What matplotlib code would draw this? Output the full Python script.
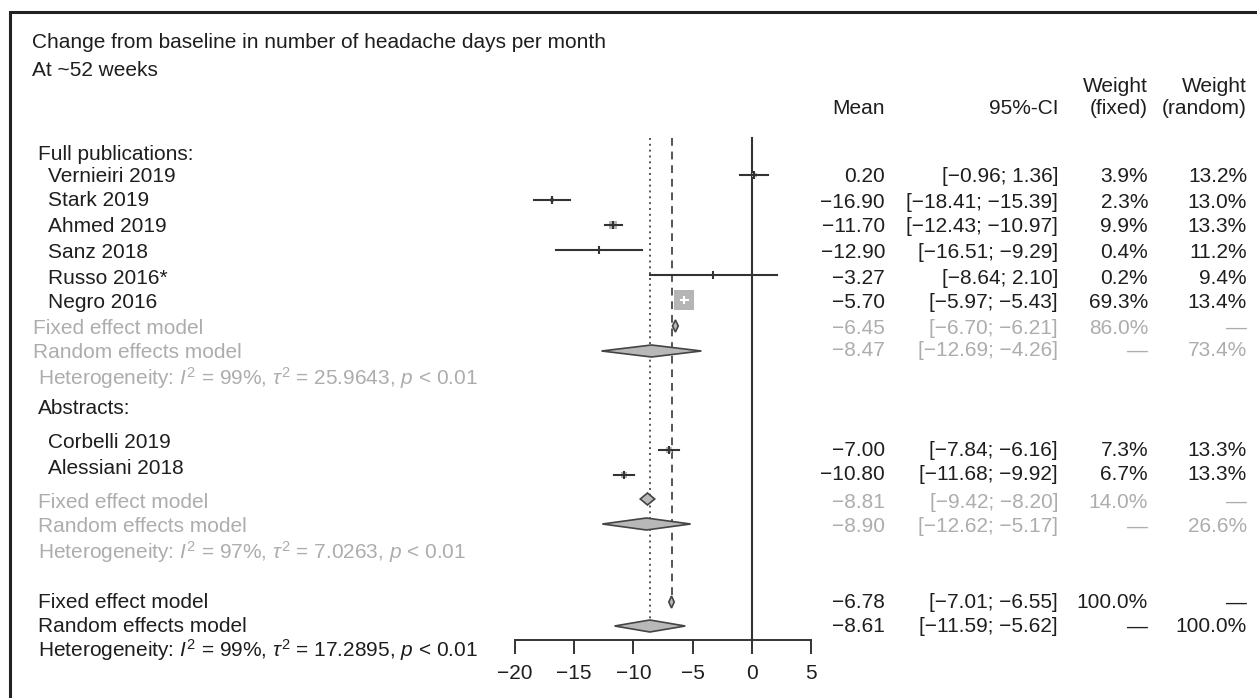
import numpy as np
import matplotlib
matplotlib.use("Agg")
import matplotlib.pyplot as plt
from matplotlib.patches import Polygon

plt.rcParams['font.family'] = ['Liberation Sans', 'DejaVu Sans']
plt.rcParams['mathtext.fontset'] = 'custom'
plt.rcParams['mathtext.rm'] = 'Liberation Sans'
plt.rcParams['mathtext.it'] = 'Liberation Sans:italic'

# ---- data ----
studies = ["Vernieiri 2019", "Stark 2019", "Ahmed 2019", "Sanz 2018",
           "Russo 2016*", "Negro 2016", "Corbelli 2019", "Alessiani 2018"]
mean = [0.20, -16.90, -11.70, -12.90, -3.27, -5.70, -7.00, -10.80]
lower = [-0.96, -18.41, -12.43, -16.51, -8.64, -5.97, -7.84, -11.68]
upper = [1.36, -15.39, -10.97, -9.29, 2.10, -5.43, -6.16, -9.92]
w_fixed = [3.9, 2.3, 9.9, 0.4, 0.2, 69.3, 7.3, 6.7]
w_random = [13.2, 13.0, 13.3, 11.2, 9.4, 13.4, 13.3, 13.3]

pooled_names = ["Fixed effect model", "Random effects model"] * 3
pooled_mean = [-6.45, -8.47, -8.81, -8.90, -6.78, -8.61]
pooled_lower = [-6.70, -12.69, -9.42, -12.62, -7.01, -11.59]
pooled_upper = [-6.21, -4.26, -8.20, -5.17, -6.55, -5.62]
pooled_wfixed = [86.0, None, 14.0, None, 100.0, None]
pooled_wrandom = [None, 73.4, None, 26.6, None, 100.0]

het_i2 = [99, 97, 99]
het_tau2 = [25.9643, 7.0263, 17.2895]

group_names = ["Full publications:", "Abstracts:"]
xticks = [-20, -15, -10, -5, 0, 5]

# ---- layout (pixel rows) ----
W, H = 1257, 698
BLACK = "#1e1e1e"
GRAY = "#adadad"
FS = 15

study_label_y = [176, 201, 227, 252, 278, 303, 443, 468]
study_value_y = [177, 202, 227, 252, 278, 303, 450, 475]
study_mark_y = [175, 200, 225, 250, 275, 300, 450, 475]
pooled_label_y = [329, 353, 502, 527, 603, 627]
pooled_value_y = [328, 351, 502, 527, 603, 627]
pooled_mark_y = [326, 351, 499, 524, 602, 626]
het_y = [378, 552, 650]
group_y = [155, 409]

col_mean, col_ci, col_wf, col_wr = 885, 1058, 1148, 1247

fig = plt.figure(figsize=(W / 100, H / 100), dpi=100)
bg = fig.add_axes([0, 0, 1, 1])
bg.set_xlim(0, W)
bg.set_ylim(H, 0)
bg.axis('off')

# frame
bg.plot([10, 10, W], [H, 12, 12], color="#222222", lw=2.2, solid_joinstyle='miter')

def txt(x, y, s, color=BLACK, ha='left'):
    bg.text(x, y, s, fontsize=FS, color=color, ha=ha, va='center')

def num(v):
    return f"{v:.2f}".replace('-', '\u2212')

def pct(v):
    return "\u2014" if v is None else f"{v:.1f}%"

# titles and headers
txt(32, 43, "Change from baseline in number of headache days per month")
txt(32, 70, "At ~52 weeks")
txt(col_wf, 87, "Weight", ha='right')
txt(col_wr, 87, "Weight", ha='right')
txt(col_mean, 109, "Mean", ha='right')
txt(col_ci, 109, "95%-CI", ha='right')
txt(col_wf, 109, "(fixed)", ha='right')
txt(col_wr, 109, "(random)", ha='right')

for g, y in zip(group_names, group_y):
    txt(38, y, g)

for i, s in enumerate(studies):
    txt(48, study_label_y[i], s)
    yv = study_value_y[i]
    txt(col_mean, yv, num(mean[i]), ha='right')
    txt(col_ci, yv, f"[{num(lower[i])}; {num(upper[i])}]", ha='right')
    txt(col_wf, yv, pct(w_fixed[i]), ha='right')
    txt(col_wr, yv, pct(w_random[i]), ha='right')

for j in range(6):
    overall = j >= 4
    c = BLACK if overall else GRAY
    xl = 33 if j < 2 else 38
    txt(xl, pooled_label_y[j], pooled_names[j], color=c)
    yv = pooled_value_y[j]
    txt(col_mean, yv, num(pooled_mean[j]), color=c, ha='right')
    txt(col_ci, yv, f"[{num(pooled_lower[j])}; {num(pooled_upper[j])}]", color=c, ha='right')
    txt(col_wf, yv, pct(pooled_wfixed[j]), color=c, ha='right')
    txt(col_wr, yv, pct(pooled_wrandom[j]), color=c, ha='right')

for k in range(3):
    c = BLACK if k == 2 else GRAY
    s = (r"Heterogeneity: $I^2$ = " + f"{het_i2[k]}%, " + r"$\tau^2$ = "
         + f"{het_tau2[k]:.4f}, " + r"$p$ < 0.01")
    txt(38, het_y[k], s, color=c)

# ---- forest panel ----
x0_px, x1_px = 515, 811
top_px, axis_px = 138, 640
fa = fig.add_axes([x0_px / W, (H - axis_px) / H, (x1_px - x0_px) / W, (axis_px - top_px) / H])
fa.set_xlim(xticks[0], xticks[-1])
fa.set_ylim(axis_px, top_px)
fa.patch.set_visible(False)
for sp in ['left', 'right', 'top']:
    fa.spines[sp].set_visible(False)
fa.spines['bottom'].set_color('#333333')
fa.spines['bottom'].set_linewidth(1.4)
fa.set_yticks([])
fa.set_xticks(xticks)
fa.set_xticklabels([str(t).replace('-', '\u2212') for t in xticks])
fa.tick_params(axis='x', direction='out', length=10, width=1.4, color='#333333',
               labelsize=FS, pad=7, labelcolor=BLACK)

# reference lines
fa.plot([0, 0], [top_px, axis_px], color='#333333', lw=1.5, clip_on=False)
fa.plot([pooled_mean[4]] * 2, [top_px, pooled_mark_y[4] - 6], color='#555555',
        lw=1.4, ls=(0, (4, 3)), clip_on=False)
fa.plot([pooled_mean[5]] * 2, [top_px, pooled_mark_y[5] - 6], color='#555555',
        lw=1.4, ls=(0, (1, 2)), clip_on=False)

px_per_unit = (x1_px - x0_px) / (xticks[-1] - xticks[0])
max_box = 20.0
for i in range(len(studies)):
    y = study_mark_y[i]
    box = max_box * np.sqrt(w_fixed[i] / max(w_fixed))
    fa.scatter([mean[i]], [y], marker='s', s=(box * 0.72) ** 2, color='#b5b5b5',
               edgecolors='none', zorder=2, clip_on=False)
    inside = (upper[i] - lower[i]) * px_per_unit < box
    lc = 'white' if inside else '#333333'
    fa.plot([lower[i], upper[i]], [y, y], color=lc, lw=1.5, zorder=3, clip_on=False)
    fa.plot([mean[i]], [y], marker='|', ms=6, mew=1.5, color=lc, zorder=4, clip_on=False)

for j in range(6):
    y = pooled_mark_y[j]
    h = 6
    verts = [(pooled_lower[j], y), (pooled_mean[j], y - h), (pooled_upper[j], y),
             (pooled_mean[j], y + h)]
    fa.add_patch(Polygon(verts, closed=True, facecolor='#b8b8b8', edgecolor='#444444',
                         lw=1.2, zorder=5, clip_on=False))

fig.savefig("out.png", dpi=100)
